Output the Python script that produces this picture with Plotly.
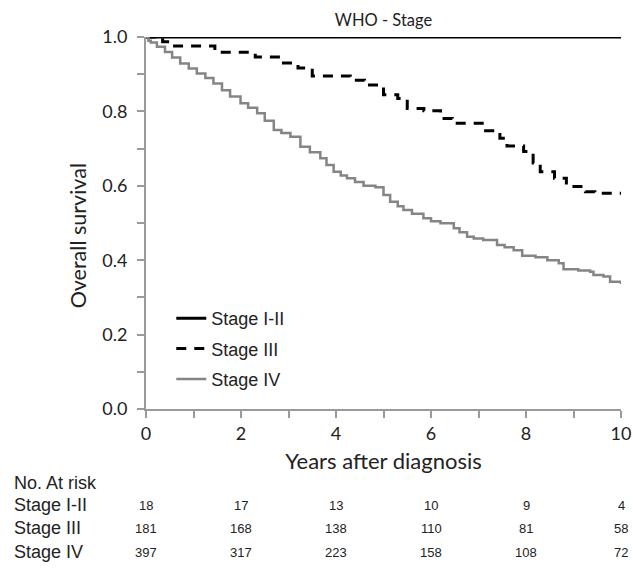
import plotly.graph_objects as go

# ---- data ----
stage12_t = [0, 10]
stage12_s = [1.0, 1.0]

stage3_t = [0, 0.35, 0.55, 1.45, 2.3, 2.85, 3.2, 3.5, 4.3, 4.6, 5.0, 5.3, 5.5, 5.85,
            6.2, 6.45, 7.15, 7.45, 7.6, 7.95, 8.15, 8.3, 8.6, 8.85, 9.25, 9.45, 10]
stage3_s = [1.0, 0.987, 0.976, 0.959, 0.946, 0.93, 0.917, 0.895, 0.884, 0.871, 0.845,
            0.835, 0.808, 0.802, 0.781, 0.768, 0.748, 0.728, 0.707, 0.692, 0.661, 0.638,
            0.62, 0.598, 0.584, 0.58, 0.58]

stage4_t = [0, 0.05, 0.1, 0.23, 0.4, 0.55, 0.72, 0.9, 1.07, 1.25, 1.42, 1.6, 1.77, 1.99,
            2.15, 2.34, 2.5, 2.69, 2.85, 3.04, 3.25, 3.45, 3.67, 3.8, 3.95, 4.1, 4.23, 4.4,
            4.58, 4.83, 5.0, 5.14, 5.3, 5.42, 5.6, 5.84, 6.0, 6.2, 6.48, 6.6, 6.76, 6.9,
            7.1, 7.39, 7.55, 7.74, 7.92, 8.2, 8.45, 8.69, 8.79, 9.1, 9.35, 9.42, 9.63,
            9.77, 10]
stage4_s = [1.0, 0.99, 0.985, 0.974, 0.96, 0.945, 0.929, 0.915, 0.902, 0.89, 0.875, 0.857,
            0.84, 0.822, 0.81, 0.795, 0.775, 0.75, 0.742, 0.732, 0.705, 0.69, 0.674, 0.656,
            0.638, 0.628, 0.62, 0.61, 0.6, 0.596, 0.575, 0.557, 0.545, 0.535, 0.525, 0.513,
            0.505, 0.499, 0.486, 0.475, 0.463, 0.458, 0.454, 0.441, 0.435, 0.427, 0.412,
            0.408, 0.4, 0.392, 0.376, 0.372, 0.369, 0.36, 0.356, 0.342, 0.336]

risk_years = [0, 2, 4, 6, 8, 10]
risk_groups = ["Stage I-II", "Stage III", "Stage IV"]
risk_counts = [
    [18, 17, 13, 10, 9, 4],
    [181, 168, 138, 110, 81, 58],
    [397, 317, 223, 158, 108, 72],
]

x_tickvals = list(range(0, 11))
x_ticktext = [str(v) if v % 2 == 0 else "" for v in x_tickvals]
y_tickvals = [i / 10 for i in range(0, 11)]
y_ticktext = [f"{v:.1f}" if i % 2 == 0 else "" for i, v in enumerate(y_tickvals)]

GRAY = "#858585"
AXIS = "#9a9a9a"
TXT = "#222222"

fig = go.Figure()
fig.add_trace(go.Scatter(x=stage12_t, y=stage12_s, mode="lines", name="Stage I-II",
                         line=dict(color="black", width=3, shape="hv"),
                         legendgroup="a", cliponaxis=False))
fig.add_trace(go.Scatter(x=stage3_t, y=stage3_s, mode="lines", name="Stage III",
                         line=dict(color="black", width=3, shape="hv", dash="10px,8px"),
                         legendgroup="b", cliponaxis=False))
fig.add_trace(go.Scatter(x=stage4_t, y=stage4_s, mode="lines", name="Stage IV",
                         line=dict(color=GRAY, width=2.5, shape="hv"),
                         legendgroup="c", cliponaxis=False))

# plot area on screen: x 145.7..621, y 37..409
def py(p):
    return (409 - p) / 372.0

def px(p):
    return (p - 145.7) / 475.3

annotations = []
annotations.append(dict(text="Overall survival", xref="paper", yref="paper",
                        x=px(78), y=py(236), xanchor="center", yanchor="middle",
                        textangle=-90, showarrow=False,
                        font=dict(family="Lato", size=21.5, color=TXT)))
annotations.append(dict(text="No. At risk", xref="paper", yref="paper",
                        x=px(12), y=py(483), xanchor="left", yanchor="middle",
                        showarrow=False, font=dict(family="Liberation Sans", size=18, color=TXT)))
row_px = [505, 528, 552]
for gi, g in enumerate(risk_groups):
    annotations.append(dict(text=g, xref="paper", yref="paper",
                            x=px(12), y=py(row_px[gi]), xanchor="left",
                            yanchor="middle", showarrow=False,
                            font=dict(family="Liberation Sans", size=18, color=TXT)))
    for yr, c in zip(risk_years, risk_counts[gi]):
        annotations.append(dict(text=str(c), xref="x", yref="paper", x=yr, y=py(row_px[gi]),
                                xanchor="center", yanchor="middle", showarrow=False,
                                font=dict(family="Liberation Sans", size=13, color=TXT)))

W, H = 633, 574
fig.update_layout(
    width=W, height=H,
    margin=dict(l=146, r=12, t=37, b=165),
    paper_bgcolor="white", plot_bgcolor="white",
    title=dict(text="WHO - Stage", x=0.5, xanchor="center", xref="paper",
               y=1 - 20 / H, yanchor="middle",
               font=dict(family="Lato", size=16.5, color=TXT)),
    xaxis=dict(range=[0, 10], tickvals=x_tickvals, ticktext=x_ticktext,
               automargin=False,
               showgrid=False, zeroline=False, showline=True, linecolor=AXIS, linewidth=2,
               ticks="outside", ticklen=7, tickwidth=1.5, tickcolor=AXIS,
               tickfont=dict(family="Lato", size=18, color=TXT),
               title=dict(text="Years after diagnosis", standoff=11,
                          font=dict(family="Lato", size=22, color=TXT))),
    yaxis=dict(range=[0, 1.0], tickvals=y_tickvals, ticktext=y_ticktext,
               automargin=False,
               showgrid=False, zeroline=False, showline=True, linecolor=AXIS, linewidth=2,
               ticks="outside", ticklen=7, tickwidth=1.5, tickcolor=AXIS,
               ticklabelstandoff=6,
               tickfont=dict(family="Lato", size=18, color=TXT)),
    legend=dict(x=px(171), y=py(300), xanchor="left", yanchor="top",
                traceorder="grouped", tracegroupgap=4,
                bgcolor="rgba(0,0,0,0)",
                font=dict(family="Liberation Sans", size=18, color=TXT)),
    annotations=annotations,
    showlegend=True,
)

fig.write_html("out.html", config={"displayModeBar": False},
               post_script="document.body.style.margin='0';document.body.style.overflow='hidden';")
